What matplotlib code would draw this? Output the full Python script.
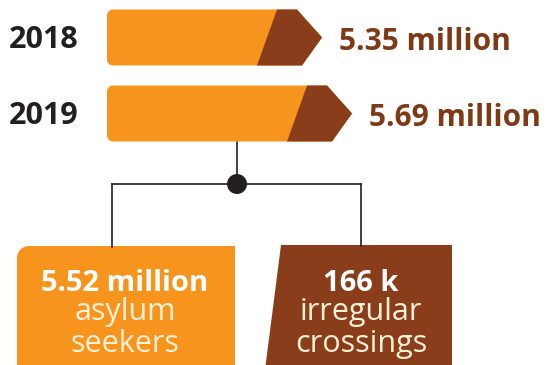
import matplotlib
matplotlib.use("Agg")
import matplotlib.pyplot as plt
from matplotlib.patches import Polygon, Circle
import numpy as np

# ---- data -------------------------------------------------------------
years = ["2018", "2019"]
totals = [5.35, 5.69]                 # millions of people
total_labels = ["5.35 million", "5.69 million"]
split_values = ["5.52 million", "166 k"]
split_labels = ["asylum\nseekers", "irregular\ncrossings"]

# ---- style ------------------------------------------------------------
ORANGE = "#F7941D"
BROWN = "#8A3D1A"
TEXT_BROWN = "#7E3A17"
INK = "#231F20"
CREAM = "#FFF1D6"
FONT = "Open Sans"

W, H = 549, 365
fig = plt.figure(figsize=(W / 100, H / 100), dpi=100)
fig.patch.set_facecolor("white")

# layout axes in pixel units
ax = fig.add_axes([0, 0, 1, 1])
ax.set_xlim(0, W)
ax.set_ylim(H, 0)
ax.axis("off")

# bar axes: x in millions, y in pixels
px_per_million = 88.2
bar_left_px = 107
bar_start_value = 2.912
x_lo = bar_start_value - bar_left_px / px_per_million
axb = fig.add_axes([0, 0, 1, 1])
axb.set_xlim(x_lo, x_lo + W / px_per_million)
axb.set_ylim(H, 0)
axb.axis("off")
axb.patch.set_alpha(0)

def px(v):
    return v / px_per_million

bar_centers = [37.5, 113.5]
bar_h = 56
r = 6  # corner radius in px

def rounded_left(x0, x1_top, x1_bot, tipx, top, bot, tipy, rx, ry, n=8):
    pts = []
    for a in np.linspace(np.pi, np.pi / 2, n):
        pts.append((x0 + rx + rx * np.cos(a), top + ry - ry * np.sin(a)))
    pts += [(x1_top, top), (tipx, tipy), (x1_bot, bot)]
    for a in np.linspace(-np.pi / 2, -np.pi, n):
        pts.append((x0 + rx + rx * np.cos(a), bot - ry - ry * np.sin(a)))
    return pts

for yr, val, lab, cy in zip(years, totals, total_labels, bar_centers):
    top, bot = cy - bar_h / 2, cy + bar_h / 2
    pts = rounded_left(bar_start_value, val - px(25), val - px(20), val,
                       top, bot, cy, px(r), r)
    axb.add_patch(Polygon(pts, closed=True, facecolor=ORANGE, edgecolor="none"))
    dark = [(val - px(45), top), (val - px(25), top), (val, cy),
            (val - px(20), bot), (val - px(65), bot)]
    axb.add_patch(Polygon(dark, closed=True, facecolor=BROWN, edgecolor="none"))
    axb.text(val + px(17), cy + 12, lab, color=TEXT_BROWN, fontsize=21.5,
             fontweight="bold", family=FONT, ha="left", va="baseline")
    ax.text(9, cy + 10, yr, color=INK, fontsize=22, fontweight="bold",
            family=FONT, ha="left", va="baseline")

# ---- connector tree -----------------------------------------------------
stem_x, node_y = 237, 184
left_x, right_x = 112, 361
lw = 1.2
ax.plot([stem_x, stem_x], [bar_centers[1] + bar_h / 2, node_y], color=INK, lw=lw)
ax.plot([left_x, right_x], [node_y, node_y], color=INK, lw=lw)
ax.plot([left_x, left_x], [node_y, 247], color=INK, lw=lw)
ax.plot([right_x, right_x], [node_y, 246], color=INK, lw=lw)
ax.add_patch(Circle((stem_x, node_y), 10, facecolor=INK, edgecolor="none", zorder=5))

# ---- breakdown boxes -----------------------------------------------------
bx0, bx1, btop, rr = 17, 235, 246, 12
pts = [(bx0, H + 5)]
for a in np.linspace(np.pi, np.pi / 2, 12):
    pts.append((bx0 + rr + rr * np.cos(a), btop + rr - rr * np.sin(a)))
pts += [(bx1, btop), (bx1, H + 5)]
ax.add_patch(Polygon(pts, closed=True, facecolor=ORANGE, edgecolor="none"))

ax.add_patch(Polygon([(281, 245), (452, 245), (452, H + 5), (265, H + 5)],
                     closed=True, facecolor=BROWN, edgecolor="none"))

for cx, v, lab in zip([125, 361], split_values, split_labels):
    ax.text(cx, 291, v, color="white", fontsize=21, fontweight="bold",
            family=FONT, ha="center", va="baseline")
    l1, l2 = lab.split("\n")
    ax.text(cx, 320, l1, color=CREAM, fontsize=22, fontweight="normal",
            family=FONT, ha="center", va="baseline")
    ax.text(cx, 352, l2, color=CREAM, fontsize=22, fontweight="normal",
            family=FONT, ha="center", va="baseline")

fig.savefig("out.png", dpi=100, facecolor="white")
